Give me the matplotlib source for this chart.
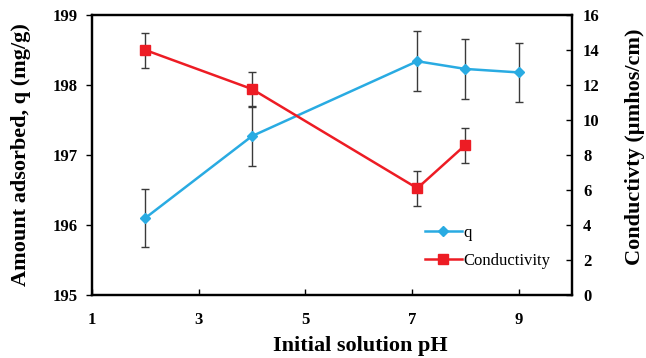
import matplotlib
matplotlib.use('Agg')
import matplotlib.pyplot as plt
from matplotlib.lines import Line2D

plt.rcParams['font.family'] = ['Liberation Serif', 'DejaVu Serif']

ph_q = [2, 4, 7.1, 8, 9]
q = [196.10, 197.27, 198.34, 198.23, 198.18]
q_err = [0.42, 0.43, 0.43, 0.43, 0.42]

ph_c = [2, 4, 7.1, 8]
cond = [14.0, 11.77, 6.1, 8.57]
cond_err = [1.0, 1.0, 1.0, 1.0]

blue = '#29ABE2'
red = '#ED1C24'

fig = plt.figure(figsize=(6.46, 3.58), dpi=100)
ax1 = fig.add_axes([0.1424, 0.176, 0.743, 0.782])
ax2 = ax1.twinx()

ax1.errorbar(ph_q, q, yerr=q_err, color=blue, marker='D', markersize=5.5,
             linewidth=1.8, ecolor='#3a3a3a', elinewidth=1.0, capsize=3,
             capthick=1.0)
ax2.errorbar(ph_c, cond, yerr=cond_err, color=red, marker='s', markersize=7,
             linewidth=1.8, ecolor='#3a3a3a', elinewidth=1.0, capsize=3,
             capthick=1.0)

ax1.set_xlim(1, 10)
ax1.set_ylim(195, 199)
ax2.set_ylim(0, 16)
ax1.set_xticks([1, 3, 5, 7, 9])
ax1.set_yticks([195, 196, 197, 198, 199])
ax2.set_yticks(range(0, 17, 2))

for ax in (ax1, ax2):
    for s in ax.spines.values():
        s.set_linewidth(1.6)
    for lab in ax.get_xticklabels() + ax.get_yticklabels():
        lab.set_fontweight('bold')
        lab.set_fontsize(12)

ax1.tick_params(axis='x', direction='in', length=4, width=1, pad=12)
ax1.tick_params(axis='y', direction='out', length=4, width=1, pad=6)
ax2.tick_params(axis='y', direction='in', length=4, width=1, pad=8)

ax1.set_xlabel('Initial solution pH', fontsize=16, fontweight='bold', labelpad=6)
ax1.xaxis.label.set_x(0.558)
ax1.set_ylabel('Amount adsorbed, q (mg/g)', fontsize=16, fontweight='bold', labelpad=16)
ax2.set_ylabel('Conductivty (µmhos/cm)', fontsize=16, fontweight='bold', labelpad=18)
ax2.yaxis.label.set_y(0.53)

handles = [Line2D([], [], color=blue, marker='D', markersize=5.5, linewidth=1.8, label='q'),
           Line2D([], [], color=red, marker='s', markersize=7, linewidth=1.8, label='Conductivity')]
ax1.legend(handles=handles, loc='upper left', bbox_to_anchor=(0.68, 0.275),
           frameon=False, fontsize=12, handlelength=2.2, handletextpad=0.1,
           labelspacing=0.75, borderaxespad=0)

fig.savefig('out.png', dpi=100)
